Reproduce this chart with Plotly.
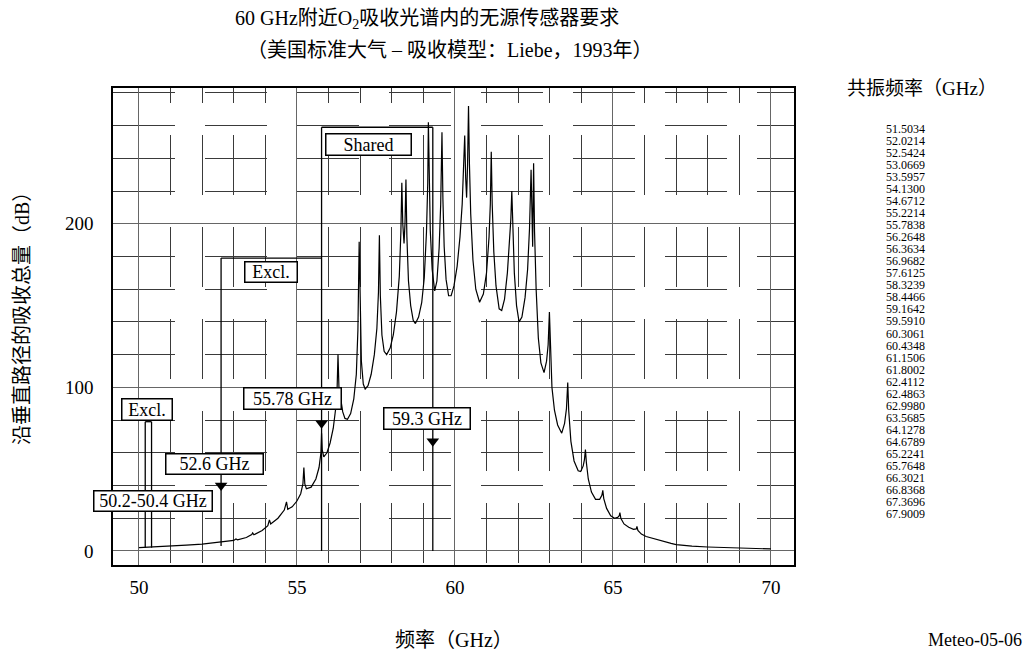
import plotly.graph_objects as go

# absorption curve (GHz, dB)
freq_ghz = [50.0, 50.5, 51.0, 51.5, 52.0, 52.5, 53.0, 53.07, 53.12, 53.4, 53.57, 53.6, 53.64,
            53.9, 54.08, 54.13, 54.17, 54.4, 54.6, 54.67, 54.71, 54.85, 55.0, 55.12, 55.19,
            55.22, 55.25, 55.3, 55.45, 55.6, 55.7, 55.76, 55.78, 55.8, 55.85, 55.95, 56.05,
            56.15, 56.22, 56.27, 56.3, 56.33, 56.38, 56.45, 56.52, 56.6, 56.7, 56.8, 56.88,
            56.93, 56.97, 57.0, 57.04, 57.1, 57.16, 57.25, 57.35, 57.45, 57.53, 57.58, 57.61,
            57.64, 57.69, 57.76, 57.84, 57.95, 58.05, 58.15, 58.24, 58.29, 58.32, 58.35, 58.39,
            58.42, 58.45, 58.48, 58.53, 58.6, 58.68, 58.75, 58.85, 58.95, 59.03, 59.1, 59.14,
            59.16, 59.18, 59.22, 59.28, 59.36, 59.43, 59.5, 59.55, 59.59, 59.62, 59.66, 59.72,
            59.8, 59.88, 59.97, 60.07, 60.16, 60.23, 60.28, 60.31, 60.34, 60.37, 60.4, 60.43,
            60.46, 60.5, 60.57, 60.66, 60.78, 60.9, 61.0, 61.08, 61.12, 61.15, 61.18, 61.23,
            61.3, 61.4, 61.48, 61.57, 61.66, 61.73, 61.77, 61.8, 61.83, 61.88, 61.95, 62.03,
            62.12, 62.22, 62.3, 62.36, 62.41, 62.44, 62.46, 62.49, 62.52, 62.57, 62.64, 62.72,
            62.82, 62.9, 62.95, 62.99, 63.02, 63.07, 63.15, 63.25, 63.38, 63.47, 63.53, 63.57,
            63.6, 63.67, 63.77, 63.9, 63.98, 64.06, 64.1, 64.13, 64.16, 64.22, 64.32, 64.45,
            64.58, 64.65, 64.68, 64.71, 64.8, 64.93, 65.05, 65.15, 65.2, 65.22, 65.25, 65.35,
            65.5, 65.65, 65.74, 65.76, 65.79, 65.9, 66.05, 66.3, 66.6, 66.84, 67.0, 67.5,
            68.0, 68.5, 69.0, 69.5, 70.0]
atten_db = [2.0, 2.4, 2.9, 3.5, 4.2, 5.1, 6.4, 7.3, 6.8, 8.2, 10.0, 11.0, 9.9,
            12.5, 15.5, 19, 16.5, 20, 25, 30, 25.5, 27, 30.5, 35, 41,
            51, 41, 38, 39, 44, 51, 60, 72, 62, 57.5, 60, 66,
            75, 86, 98, 120, 100, 93, 85, 81, 80.5, 84, 93, 108,
            135, 189, 142, 116, 102, 99, 101, 108, 120, 136, 158, 193,
            156, 132, 122, 120, 124, 132, 146, 168, 195, 225, 200, 188,
            200, 227, 192, 165, 150, 141, 139, 143, 152, 167, 195, 225,
            262, 228, 196, 172, 159, 165, 185, 212, 256, 215, 186, 166,
            156, 156, 162, 174, 192, 212, 233, 254, 228, 216, 236, 272,
            236, 206, 178, 160, 152, 157, 170, 192, 212, 244, 212, 183,
            162, 148, 147, 154, 170, 190, 203, 220, 196, 170, 150, 140,
            143, 155, 172, 197, 233, 195, 186, 237, 195, 160, 130, 115,
            109, 116, 126, 146, 122, 100, 86, 77, 72, 78, 87, 103,
            86, 67, 55, 49, 48.5, 52, 56, 62, 54, 44, 36, 31.5,
            31.5, 34, 37, 32, 26, 21.5, 20, 20.5, 21.5, 23.5, 20, 16.5,
            14.5, 13.2, 13.5, 15, 12.5, 10.3, 8.8, 7.4, 5.5, 4.6, 3.9, 2.9,
            2.4, 2.0, 1.7, 1.4, 1.2]

resonance_ghz = ["51.5034", "52.0214", "52.5424", "53.0669", "53.5957", "54.1300",
                 "54.6712", "55.2214", "55.7838", "56.2648", "56.3634", "56.9682",
                 "57.6125", "58.3239", "58.4466", "59.1642", "59.5910", "60.3061",
                 "60.4348", "61.1506", "61.8002", "62.4112", "62.4863", "62.9980",
                 "63.5685", "64.1278", "64.6789", "65.2241", "65.7648", "66.3021",
                 "66.8368", "67.3696", "67.9009"]

x_ticks = [50, 55, 60, 65, 70]
y_ticks = [0, 100, 200]

# sensor bands (GHz)
shared_band = [55.78, 59.3]
excl_band = [52.6, 55.78]
excl_low_band = [50.2, 50.4]
arrow_ghz = [52.6, 55.78, 59.3]
arrow_db = [40, 78, 67]

SERIF = "Liberation Serif, Times New Roman, Noto Sans CJK SC, serif"

# plot area in page pixels
L, T, W, H = 113, 88, 681, 477
FW, FH = 1032, 654


def px(x, y):
    return (x - L) / W, (T + H - y) / H


fig = go.Figure()

fig.add_trace(go.Scatter(x=freq_ghz, y=atten_db, mode="lines",
                         line=dict(color="black", width=1.2), hoverinfo="skip"))

fig.add_trace(go.Scatter(x=arrow_ghz, y=arrow_db, mode="markers",
                         marker=dict(symbol="triangle-down", size=11, color="black"),
                         hoverinfo="skip"))

lw = dict(color="black", width=1.3)
shapes = []
# shared bracket
shapes.append(dict(type="line", x0=shared_band[0], x1=shared_band[0], y0=0, y1=259, line=lw))
shapes.append(dict(type="line", x0=shared_band[1], x1=shared_band[1], y0=0, y1=259, line=lw))
shapes.append(dict(type="line", x0=shared_band[0], x1=shared_band[1], y0=259, y1=259, line=lw))
# excl bracket
shapes.append(dict(type="line", x0=excl_band[0], x1=excl_band[0], y0=3, y1=179, line=lw))
shapes.append(dict(type="line", x0=excl_band[0], x1=excl_band[1], y0=179, y1=179, line=lw))
# low excl pair
for f in excl_low_band:
    shapes.append(dict(type="line", x0=f, x1=f, y0=2, y1=79, line=lw))
shapes.append(dict(type="line", x0=excl_low_band[0], x1=excl_low_band[1], y0=79, y1=79, line=lw))

annots = []


def box(text, x, y, w, h):
    annots.append(dict(x=x, y=y, xref="x", yref="y", text=text, showarrow=False,
                       font=dict(family=SERIF, size=18, color="black"),
                       bgcolor="white", bordercolor="black", borderwidth=1.5, borderpad=0,
                       width=w - 3, height=h - 3, align="center", valign="middle"))


box("Shared", 57.26, 248.6, 87, 23)
box("Excl.", 54.18, 170.3, 54, 22)
box("Excl.", 50.25, 86.5, 52, 23)
box("50.2-50.4 GHz", 50.44, 30.6, 120, 22)
box("52.6 GHz", 52.39, 53.2, 99, 22)
box("55.78 GHz", 54.86, 93.3, 99, 23)
box("59.3 GHz", 59.11, 80.7, 88, 23)


def text(t, x, y, size, angle=0, xa="center"):
    xp, yp = px(x, y)
    annots.append(dict(x=xp, y=yp, xref="paper", yref="paper", text=t, showarrow=False,
                       textangle=angle, xanchor=xa, yanchor="middle",
                       font=dict(family=SERIF, size=size, color="black")))


text("60 GHz附近O<sub>2</sub>吸收光谱内的无源传感器要求", 427, 20, 20)
text("（美国标准大气 – 吸收模型：Liebe，1993年）", 450, 50, 20)
text("沿垂直路径的吸收总量（dB）", 22, 313, 20, angle=-90)
text("频率（GHz）", 454, 640, 20)
text("共振频率（GHz）", 922, 88, 19)
text("Meteo-05-06", 975, 640, 18)

for i, r in enumerate(resonance_ghz):
    text(r, 905, 129 + i * 12.03, 12)

fig.update_layout(
    width=FW, height=FH,
    margin=dict(l=L, r=FW - L - W, t=T, b=FH - T - H),
    plot_bgcolor="white", paper_bgcolor="white",
    showlegend=False, shapes=shapes, annotations=annots,
)

fig.update_xaxes(range=[49.18, 70.73], tickvals=x_ticks, ticks="",
                 tickfont=dict(family=SERIF, size=19, color="black"), ticklabelstandoff=4,
                 showgrid=True, gridcolor="#666", gridwidth=1, zeroline=False,
                 showline=True, linecolor="black", linewidth=1.5, mirror=True,
                 minor=dict(tick0=50, dtick=1, showgrid=True, gridcolor="#3a3a3a", gridwidth=1,
                            griddash="15px,32px,60px,32px,60px,32px,60px,32px,60px,32px,60px,32px"))
fig.update_yaxes(range=[-8.6, 283], tickvals=y_ticks, ticks="",
                 tickfont=dict(family=SERIF, size=19, color="black"), ticklabelstandoff=14,
                 showgrid=True, gridcolor="#666", gridwidth=1, zeroline=False,
                 showline=True, linecolor="black", linewidth=1.5, mirror=True,
                 minor=dict(tick0=0, dtick=20, showgrid=True, gridcolor="#3a3a3a", gridwidth=1,
                            griddash="62px,30px"))

# drop the browser's default body margin so the figure fills the window
fig.write_html("out.html", config={"displayModeBar": False},
               post_script="document.body.style.margin='0px';")
